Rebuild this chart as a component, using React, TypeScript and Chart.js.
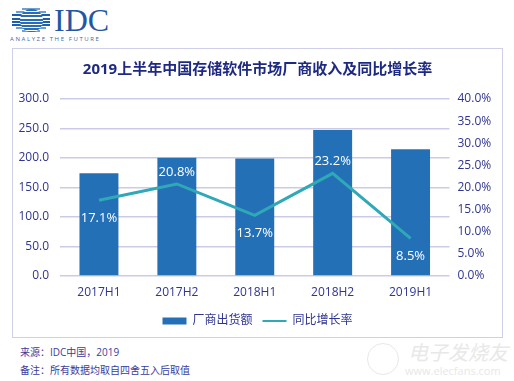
import React, { useEffect, useRef } from "react";
import { Chart, registerables } from "chart.js";

Chart.register(...registerables);

const categories = ["2017H1", "2017H2", "2018H1", "2018H2", "2019H1"];
const revenue = [174, 200.5, 199, 247.5, 215];
const growth = [17.1, 20.8, 13.7, 23.2, 8.5];
const growthLabelSide = ["below", "above", "below", "above", "below"];
const leftTicks = [0, 50, 100, 150, 200, 250, 300];
const rightTicks = [0, 5, 10, 15, 20, 25, 30, 35, 40];
const titleText = "2019上半年中国存储软件市场厂商收入及同比增长率";
const seriesNames = ["厂商出货额", "同比增长率"];
const sourceNote = "来源：IDC中国，2019";
const remarkNote = "备注：所有数据均取自四舍五入后取值";

const BAR = "#2470B6";
const LINE = "#2FA8B8";
const NAVY = "#2F3590";
const GRID = "#CBCBE8";
const FONT = "'Open Sans', 'Noto Sans CJK SC', sans-serif";

const labelPlugin = {
  id: "growthLabels",
  afterDatasetsDraw(chart: any) {
    const meta = chart.getDatasetMeta(1);
    const ctx = chart.ctx;
    ctx.save();
    ctx.fillStyle = "#ffffff";
    ctx.font = `13px ${FONT}`;
    ctx.textAlign = "center";
    ctx.textBaseline = "middle";
    meta.data.forEach((pt: any, i: number) => {
      const dy = growthLabelSide[i] === "above" ? -12 : 18;
      ctx.fillText(growth[i].toFixed(1) + "%", pt.x, pt.y + dy);
    });
    ctx.restore();
  },
};

export default function App() {
  const ref = useRef<HTMLCanvasElement | null>(null);
  useEffect(() => {
    if (!ref.current) return;
    const chart = new Chart(ref.current, {
      type: "bar",
      data: {
        labels: categories,
        datasets: [
          {
            type: "bar",
            label: seriesNames[0],
            data: revenue,
            backgroundColor: BAR,
            borderWidth: 0,
            barPercentage: 0.5,
            categoryPercentage: 1,
            yAxisID: "y",
            order: 2,
          },
          {
            type: "line",
            label: seriesNames[1],
            data: growth,
            borderColor: LINE,
            backgroundColor: LINE,
            borderWidth: 3,
            pointRadius: 0,
            tension: 0,
            yAxisID: "y1",
            order: 1,
          } as any,
        ],
      },
      options: {
        animation: false,
        responsive: false,
        maintainAspectRatio: false,
        layout: { padding: { left: 0, right: 0, top: 0, bottom: 0 } },
        plugins: {
          tooltip: { enabled: false },
          title: {
            display: true,
            text: titleText,
            color: "#1E2A82",
            font: { family: FONT, size: 15, weight: "bold" },
            padding: { top: 12, bottom: 20 },
          },
          legend: {
            position: "bottom",
            labels: {
              color: NAVY,
              font: { family: FONT, size: 12 },
              usePointStyle: true,
              pointStyleWidth: 24,
              boxWidth: 24,
              boxHeight: 7,
              padding: 10,
              generateLabels: (c: any) =>
                c.data.datasets.map((ds: any, i: number) => ({
                  text: ds.label,
                  fillStyle: i === 0 ? BAR : "rgba(0,0,0,0)",
                  strokeStyle: i === 0 ? BAR : LINE,
                  lineWidth: i === 0 ? 0 : 2,
                  pointStyle: i === 0 ? "rect" : "line",
                  fontColor: NAVY,
                  datasetIndex: i,
                  hidden: false,
                })),
            },
          },
        },
        scales: {
          x: {
            grid: { display: false, drawTicks: false },
            border: { display: false },
            ticks: { color: NAVY, font: { family: FONT, size: 12 }, padding: 9 },
            afterFit: (s: any) => {
              s.height = 29;
            },
          },
          y: {
            position: "left",
            min: 0,
            max: 300,
            afterBuildTicks: (s: any) => {
              s.ticks = leftTicks.map((v) => ({ value: v }));
            },
            ticks: {
              color: NAVY,
              font: { family: FONT, size: 12 },
              padding: 11,
              callback: (v: any) => Number(v).toFixed(1),
            },
            grid: { color: GRID, lineWidth: 1.5, drawTicks: false },
            border: { display: false },
            afterFit: (s: any) => {
              s.width = 47;
            },
          },
          y1: {
            position: "right",
            min: 0,
            max: 40,
            afterBuildTicks: (s: any) => {
              s.ticks = rightTicks.map((v) => ({ value: v }));
            },
            ticks: {
              color: NAVY,
              font: { family: FONT, size: 12 },
              padding: 8,
              callback: (v: any) => Number(v).toFixed(1) + "%",
            },
            grid: { display: false, drawTicks: false },
            border: { display: false },
            afterFit: (s: any) => {
              s.width = 52.5;
            },
          },
        },
      } as any,
      plugins: [labelPlugin],
    });
    return () => chart.destroy();
  }, []);

  const stripes = [0, 1, 2, 3, 4, 5, 6, 7];
  return (
    <div
      style={{
        position: "fixed",
        left: 0,
        top: 0,
        width: 514,
        height: 381,
        background: "#ffffff",
        fontFamily: FONT,
        overflow: "hidden",
      }}
    >
      {/* IDC logo */}
      <div style={{ position: "absolute", left: 12, top: 8, width: 38, height: 25 }}>
        {stripes.map((i) => (
          <div
            key={i}
            style={{
              position: "absolute",
              left: i === 0 || i === 7 ? 10 : i === 1 || i === 6 ? 4 : 0,
              right: i === 0 || i === 7 ? 10 : i === 1 || i === 6 ? 4 : 0,
              top: i * 3.2,
              height: 2,
              background: i >= 2 && i <= 5 ? "#1F5FA8" : "#6FA0D2",
            }}
          />
        ))}
        <div
          style={{
            position: "absolute",
            left: 8,
            top: 1,
            width: 23,
            height: 23,
            borderRadius: "50%",
            background:
              "repeating-linear-gradient(to bottom, #2A6DB5 0px, #2A6DB5 2px, #ffffff 2px, #ffffff 3.2px)",
          }}
        />
      </div>
      <div
        style={{
          position: "absolute",
          left: 54,
          top: 3,
          fontFamily: "'Liberation Serif', 'DejaVu Serif', serif",
          fontSize: 32,
          lineHeight: "34px",
          color: "#2456A3",
        }}
      >
        IDC
      </div>
      <div
        style={{
          position: "absolute",
          left: 10,
          top: 35,
          fontSize: 6,
          letterSpacing: 1.6,
          color: "#3E6AA8",
          lineHeight: "8px",
          whiteSpace: "nowrap",
        }}
      >
        ANALYZE THE FUTURE
      </div>

      {/* frame */}
      <div
        style={{
          position: "absolute",
          left: 12,
          top: 48,
          width: 489,
          height: 288,
          border: "1.5px solid #CFCFEA",
        }}
      />
      <canvas
        ref={ref}
        width={489}
        height={288}
        style={{ position: "absolute", left: 13, top: 49, width: 489, height: 288 }}
      />

      {/* notes */}
      <div
        style={{
          position: "absolute",
          left: 20,
          top: 345,
          fontSize: 10,
          lineHeight: "14px",
          color: "#3B3C9C",
          whiteSpace: "nowrap",
        }}
      >
        {sourceNote}
      </div>
      <div
        style={{
          position: "absolute",
          left: 20,
          top: 363,
          fontSize: 10,
          lineHeight: "14px",
          color: "#3B3C9C",
          whiteSpace: "nowrap",
        }}
      >
        {remarkNote}
      </div>

      {/* watermark */}
      <div
        style={{
          position: "absolute",
          left: 367,
          top: 343,
          width: 30,
          height: 30,
          borderRadius: "50%",
          border: "1.5px solid #E8E8E8",
        }}
      />
      <div
        style={{
          position: "absolute",
          left: 408,
          top: 341,
          fontSize: 20,
          lineHeight: "24px",
          color: "#E8E8E8",
          fontStyle: "italic",
          whiteSpace: "nowrap",
        }}
      >
        电子发烧友
      </div>
      <div
        style={{
          position: "absolute",
          left: 405,
          top: 364,
          fontSize: 11,
          lineHeight: "14px",
          color: "#E8E8E8",
          whiteSpace: "nowrap",
        }}
      >
        www.elecfans.com
      </div>
    </div>
  );
}
